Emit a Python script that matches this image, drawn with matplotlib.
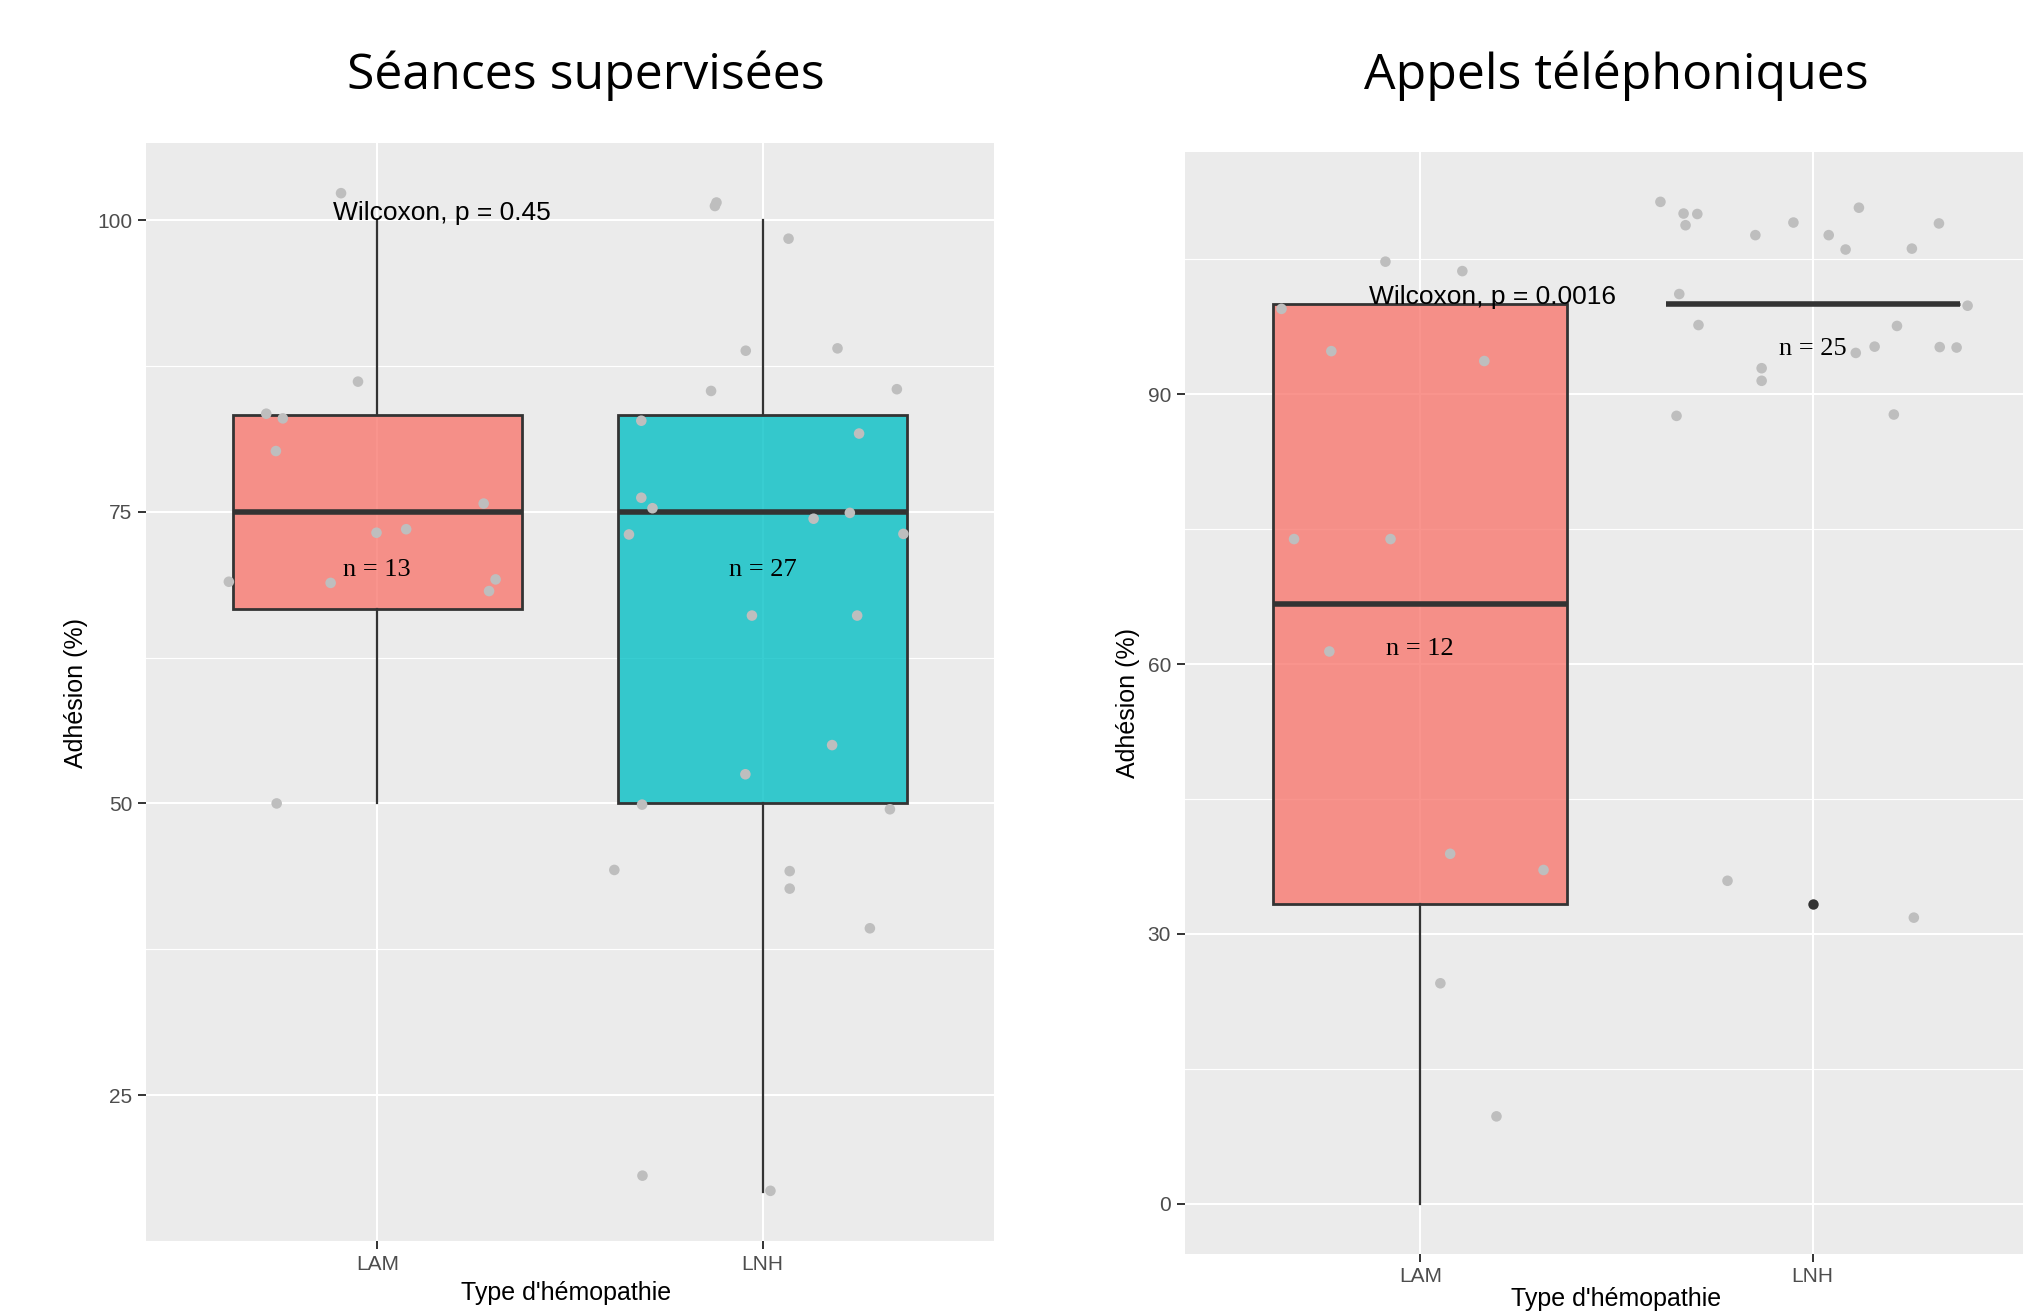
import matplotlib
matplotlib.use('Agg')
import matplotlib.pyplot as plt

# Data
groups = ['LAM', 'LNH']

# Séances supervisées: box stats
sup_q1 = [66.7, 50.0]
sup_med = [75.0, 75.0]
sup_q3 = [83.3, 83.3]
sup_lo = [50.0, 16.7]
sup_hi = [100.0, 100.0]
sup_fliers = [[], []]
sup_n = [13, 27]

# jittered points (offset from group position, value)
sup_lam_dx = [-0.094, -0.05, -0.288, -0.245, -0.263, 0.276, -0.002, 0.075, -0.385, -0.121, 0.307, 0.29, -0.261]
sup_lam_y = [102.3, 86.15, 83.4, 83.0, 80.2, 75.7, 73.2, 73.5, 69.0, 68.9, 69.2, 68.2, 50.0]
sup_lnh_dx = [-0.124, -0.12, 0.067, -0.044, 0.194, -0.134, 0.348, -0.315, 0.25, -0.315, -0.286, 0.132, 0.226,
              -0.347, 0.365, -0.028, 0.245, 0.18, -0.045, -0.313, 0.33, -0.385, 0.07, 0.07, 0.278, -0.312, 0.02]
sup_lnh_y = [101.2, 101.5, 98.4, 88.8, 89.0, 85.35, 85.5, 82.8, 81.7, 76.2, 75.3, 74.4, 74.9,
             73.05, 73.1, 66.1, 66.1, 55.0, 52.5, 49.9, 49.5, 44.3, 44.2, 42.7, 39.3, 18.1, 16.8]

# Appels téléphoniques: box stats
tel_q1 = [33.3, 100.0]
tel_med = [66.7, 100.0]
tel_q3 = [100.0, 100.0]
tel_lo = [0.0, 100.0]
tel_hi = [100.0, 100.0]
tel_fliers = [[], [33.3]]
tel_n = [12, 25]

tel_lam_dx = [-0.089, 0.107, -0.354, -0.227, 0.163, -0.322, -0.076, -0.232, 0.076, 0.314, 0.051, 0.194]
tel_lam_y = [104.75, 103.7, 99.5, 94.8, 93.7, 73.9, 73.9, 61.4, 38.9, 37.1, 24.5, 9.7]
tel_lnh_dx = [-0.388, -0.329, -0.294, -0.324, -0.146, -0.049, 0.118, 0.041, 0.084, 0.253, 0.322, -0.34, 0.395,
              -0.291, 0.215, 0.158, 0.11, 0.324, 0.367, -0.13, -0.13, -0.347, 0.207, -0.217, 0.258]
tel_lnh_y = [111.4, 110.1, 110.05, 108.8, 107.7, 109.1, 110.75, 107.7, 106.1, 106.2, 109.0, 101.15, 99.85,
             97.7, 97.6, 95.3, 94.6, 95.25, 95.2, 92.9, 91.5, 87.6, 87.75, 35.9, 31.8]

sup_label = 'Wilcoxon, p = 0.45'
tel_label = 'Wilcoxon, p = 0.0016'

fills = ['#F8766D', '#00BFC4']
panel_bg = '#EBEBEB'
dark = '#333333'

fig = plt.figure(figsize=(20.24, 13.15), dpi=100)


def draw_panel(ax, q1, med, q3, lo, hi, fliers, n, pts, ylim, yticks, minor, wlabel, wx):
    ax.set_facecolor(panel_bg)
    for s in ax.spines.values():
        s.set_visible(False)
    stats = []
    for i in range(len(groups)):
        stats.append(dict(med=med[i], q1=q1[i], q3=q3[i], whislo=lo[i], whishi=hi[i], fliers=fliers[i]))
    bp = ax.bxp(stats, positions=[1, 2], widths=0.75, patch_artist=True, showcaps=False,
                boxprops=dict(edgecolor=dark, linewidth=2.0),
                medianprops=dict(color=dark, linewidth=4.0, solid_capstyle='butt'),
                whiskerprops=dict(color=dark, linewidth=1.6),
                flierprops=dict(marker='o', markerfacecolor=dark, markeredgecolor='none', markersize=7.5),
                zorder=2)
    for patch, c in zip(bp['boxes'], fills):
        patch.set_facecolor(matplotlib.colors.to_rgba(c, 0.78))
    for i, (dx, y) in enumerate(pts):
        ax.scatter([i + 1 + d for d in dx], y, s=58, color='#BEBEBE', edgecolors='none', zorder=3)
    for i in range(len(groups)):
        ax.text(i + 1, med[i] - 5, f'n = {n[i]}', ha='center', va='center', fontsize=19,
                family='Liberation Serif', zorder=4)
    ax.text(wx, 100, wlabel, ha='left', va='baseline', fontsize=19, family='Liberation Sans', zorder=4)

    ax.set_xlim(0.4, 2.6)
    ax.set_ylim(*ylim)
    ax.set_xticks([1, 2])
    ax.set_xticklabels(groups)
    ax.set_yticks(yticks)
    ax.set_yticks(minor, minor=True)
    ax.grid(True, which='major', color='white', linewidth=1.5, zorder=0)
    ax.grid(True, which='minor', axis='y', color='white', linewidth=0.8, zorder=0)
    ax.set_axisbelow(True)
    ax.tick_params(axis='both', which='major', length=5.5, width=1.4, color=dark,
                   labelcolor='#4D4D4D', labelsize=15, pad=4.5)
    ax.tick_params(axis='both', which='minor', length=0)
    for lab in ax.get_xticklabels() + ax.get_yticklabels():
        lab.set_family('Liberation Sans')


ax1 = fig.add_axes([146 / 2024, 1 - 1241 / 1315, (994 - 146) / 2024, (1241 - 143) / 1315])
draw_panel(ax1, sup_q1, sup_med, sup_q3, sup_lo, sup_hi, sup_fliers, sup_n,
           [(sup_lam_dx, sup_lam_y), (sup_lnh_dx, sup_lnh_y)],
           (12.5, 106.6), [25, 50, 75, 100], [12.5, 37.5, 62.5, 87.5], sup_label, 0.886)

ax2 = fig.add_axes([1185 / 2024, 1 - 1253.5 / 1315, (2048 - 1185) / 2024, (1253.5 - 151.5) / 1315])
draw_panel(ax2, tel_q1, tel_med, tel_q3, tel_lo, tel_hi, tel_fliers, tel_n,
           [(tel_lam_dx, tel_lam_y), (tel_lnh_dx, tel_lnh_y)],
           (-5.55, 117.0), [0, 30, 60, 90], [15, 45, 75, 105], tel_label, 0.87)

# Titles and axis titles
fig.text(586 / 2024, 1 - 76 / 1315, 'Séances supervisées', ha='center', va='center', fontsize=36, family='Open Sans')
fig.text(1616 / 2024, 1 - 76 / 1315, 'Appels téléphoniques', ha='center', va='center', fontsize=36, family='Open Sans')
fig.text(76 / 2024, 1 - 693 / 1315, 'Adhésion (%)', rotation=90, ha='center', va='center', fontsize=18,
         family='Liberation Sans')
fig.text(1128 / 2024, 1 - 703 / 1315, 'Adhésion (%)', rotation=90, ha='center', va='center', fontsize=18,
         family='Liberation Sans')
fig.text(566 / 2024, 1 - 1293 / 1315, "Type d'hémopathie", ha='center', va='center', fontsize=18,
         family='Liberation Sans')
fig.text(1616 / 2024, 1 - 1299 / 1315, "Type d'hémopathie", ha='center', va='center', fontsize=18,
         family='Liberation Sans')

plt.savefig('out.png', dpi=100)
plt.close()
